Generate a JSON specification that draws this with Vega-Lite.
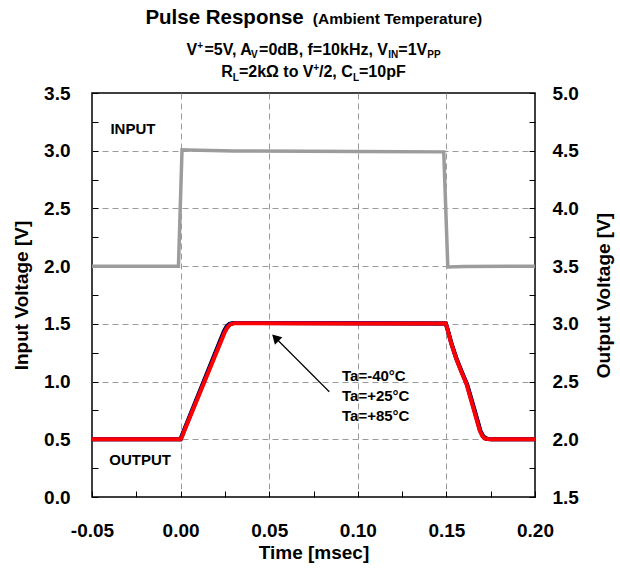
{
  "$schema": "https://vega.github.io/schema/vega-lite/v6.json",
  "width": 443,
  "height": 404,
  "autosize": {"type": "none"},
  "padding": {"left": 92, "top": 93, "right": 85, "bottom": 78},
  "background": "white",
  "config": {
    "font": "Liberation Sans",
    "view": {"stroke": "#000000", "strokeWidth": 1.5},
    "axis": {
      "labelFont": "Liberation Sans", "labelFontSize": 19, "labelFontWeight": "bold", "labelColor": "#000000",
      "titleFont": "Liberation Sans", "titleFontSize": 19, "titleFontWeight": "bold", "titleColor": "#000000",
      "tickColor": "#000000", "tickSize": -6, "tickWidth": 1, "domain": false,
      "labelFlush": false, "labelOverlap": false,
      "gridColor": "#9a9a9a", "gridDash": [6, 4], "gridWidth": 1
    },
    "text": {"font": "Liberation Sans", "fontWeight": "bold", "color": "#000000"}
  },
  "datasets": {
    "input": [
      {"t": -0.05, "v": 2.0}, {"t": -0.0012, "v": 2.0}, {"t": 0.0008, "v": 3.008}, {"t": 0.004, "v": 3.006},
      {"t": 0.03, "v": 2.998}, {"t": 0.1, "v": 2.993}, {"t": 0.1485, "v": 2.99}, {"t": 0.1508, "v": 1.993},
      {"t": 0.16, "v": 1.996}, {"t": 0.2, "v": 2.0}
    ],
    "output": [
      {"ta": "-40", "t": -0.05, "v": 2.0}, {"ta": "-40", "t": 0.0, "v": 2.0}, {"ta": "-40", "t": 0.0006, "v": 2.03},
      {"ta": "-40", "t": 0.0245, "v": 2.94}, {"ta": "-40", "t": 0.026, "v": 2.98}, {"ta": "-40", "t": 0.0275, "v": 3.0},
      {"ta": "-40", "t": 0.03, "v": 3.008}, {"ta": "-40", "t": 0.1, "v": 3.005}, {"ta": "-40", "t": 0.1497, "v": 3.003},
      {"ta": "-40", "t": 0.1507, "v": 2.95}, {"ta": "-40", "t": 0.153, "v": 2.825}, {"ta": "-40", "t": 0.1558, "v": 2.695},
      {"ta": "-40", "t": 0.1588, "v": 2.58}, {"ta": "-40", "t": 0.1618, "v": 2.47}, {"ta": "-40", "t": 0.1656, "v": 2.27},
      {"ta": "-40", "t": 0.1693, "v": 2.07}, {"ta": "-40", "t": 0.1709, "v": 2.025}, {"ta": "-40", "t": 0.1727, "v": 2.005},
      {"ta": "-40", "t": 0.176, "v": 2.0}, {"ta": "-40", "t": 0.2, "v": 2.0},
      {"ta": "+25", "t": -0.05, "v": 2.0}, {"ta": "+25", "t": 0.0, "v": 2.0}, {"ta": "+25", "t": 0.0007, "v": 2.025},
      {"ta": "+25", "t": 0.0248, "v": 2.935}, {"ta": "+25", "t": 0.0263, "v": 2.975}, {"ta": "+25", "t": 0.0278, "v": 2.998},
      {"ta": "+25", "t": 0.0302, "v": 3.007}, {"ta": "+25", "t": 0.1, "v": 3.005}, {"ta": "+25", "t": 0.1496, "v": 3.003},
      {"ta": "+25", "t": 0.1506, "v": 2.955}, {"ta": "+25", "t": 0.1528, "v": 2.828}, {"ta": "+25", "t": 0.1556, "v": 2.698},
      {"ta": "+25", "t": 0.1586, "v": 2.582}, {"ta": "+25", "t": 0.1615, "v": 2.478}, {"ta": "+25", "t": 0.1653, "v": 2.275},
      {"ta": "+25", "t": 0.169, "v": 2.075}, {"ta": "+25", "t": 0.1705, "v": 2.028}, {"ta": "+25", "t": 0.1721, "v": 2.006},
      {"ta": "+25", "t": 0.175, "v": 2.0}, {"ta": "+25", "t": 0.2, "v": 2.0},
      {"ta": "+85", "t": -0.05, "v": 2.0}, {"ta": "+85", "t": 0.0, "v": 2.0}, {"ta": "+85", "t": 0.0008, "v": 2.02},
      {"ta": "+85", "t": 0.002, "v": 2.07}, {"ta": "+85", "t": 0.025, "v": 2.93}, {"ta": "+85", "t": 0.0265, "v": 2.97},
      {"ta": "+85", "t": 0.028, "v": 2.995}, {"ta": "+85", "t": 0.0305, "v": 3.006}, {"ta": "+85", "t": 0.1, "v": 3.004},
      {"ta": "+85", "t": 0.1495, "v": 3.003}, {"ta": "+85", "t": 0.1505, "v": 2.96}, {"ta": "+85", "t": 0.1527, "v": 2.83},
      {"ta": "+85", "t": 0.1555, "v": 2.70}, {"ta": "+85", "t": 0.1584, "v": 2.585}, {"ta": "+85", "t": 0.1612, "v": 2.485},
      {"ta": "+85", "t": 0.165, "v": 2.28}, {"ta": "+85", "t": 0.1687, "v": 2.08}, {"ta": "+85", "t": 0.1702, "v": 2.03},
      {"ta": "+85", "t": 0.1716, "v": 2.008}, {"ta": "+85", "t": 0.174, "v": 2.0}, {"ta": "+85", "t": 0.2, "v": 2.0}
    ],
    "titleMain": [
      {"s": "V", "t": 0.00328, "v": 3.829},
      {"s": "=5V, A", "t": 0.0135, "v": 3.829},
      {"s": "=0dB, f=10kHz, V", "t": 0.04429, "v": 3.829},
      {"s": "=1V", "t": 0.12285, "v": 3.829},
      {"s": "R", "t": 0.02291, "v": 3.636},
      {"s": "=2kΩ to V", "t": 0.0329, "v": 3.636},
      {"s": "/2, C", "t": 0.07811, "v": 3.636},
      {"s": "=10pF", "t": 0.10068, "v": 3.636}
    ],
    "titleSmall": [
      {"s": "+", "t": 0.00933, "v": 3.881},
      {"s": "V", "t": 0.0397, "v": 3.799},
      {"s": "IN", "t": 0.11719, "v": 3.799},
      {"s": "PP", "t": 0.1392, "v": 3.799},
      {"s": "L", "t": 0.02944, "v": 3.608},
      {"s": "+", "t": 0.07481, "v": 3.691},
      {"s": "L", "t": 0.09723, "v": 3.608}
    ],
    "labels": [
      {"s": "INPUT", "t": -0.0396, "v": 3.145},
      {"s": "OUTPUT", "t": -0.0402, "v": 0.277}
    ],
    "temps": [
      {"s": "Ta=-40°C", "t": 0.0911, "v": 1.005},
      {"s": "Ta=+25°C", "t": 0.0911, "v": 0.832},
      {"s": "Ta=+85°C", "t": 0.0911, "v": 0.658}
    ]
  },
  "layer": [
    {
      "data": {"name": "input"},
      "mark": {"type": "line", "color": "#9c9c9c", "strokeWidth": 3.5},
      "encoding": {
        "x": {
          "field": "t", "type": "quantitative", "title": "Time [msec]",
          "scale": {"domain": [-0.05, 0.2], "nice": false, "zero": false},
          "axis": {
            "title": "Time [msec]",
            "values": [-0.05, -0.025, 0, 0.025, 0.05, 0.075, 0.1, 0.125, 0.15, 0.175, 0.2],
            "labelExpr": "abs(round(datum.value*1000)) % 50 == 0 ? replace(format(datum.value, '.2f'), '−', '-') : ''",
            "labelPadding": 30,
            "titlePadding": 3,
            "labelOverlap": false,
            "labelFlush": false,
            "gridOpacity": {"condition": {"test": "abs(round(datum.value*1000)) % 50 != 0 || abs(datum.value + 0.05) < 0.001 || abs(datum.value - 0.2) < 0.001", "value": 0}, "value": 1}
          }
        },
        "y": {
          "field": "v", "type": "quantitative",
          "scale": {"domain": [0, 3.5], "nice": false, "zero": false},
          "axis": {
            "title": "Input Voltage [V]",
            "values": [0, 0.25, 0.5, 0.75, 1, 1.25, 1.5, 1.75, 2, 2.25, 2.5, 2.75, 3, 3.25, 3.5],
            "labelExpr": "round(datum.value*100) % 50 == 0 ? format(datum.value, '.1f') : ''",
            "labelPadding": 28,
            "titlePadding": 12,
            "gridOpacity": {"condition": {"test": "round(datum.value*100) % 50 != 0 || datum.value < 0.01 || datum.value > 3.49", "value": 0}, "value": 1}
          }
        }
      }
    },
    {
      "data": {"name": "output"},
      "mark": {"type": "line", "strokeWidth": 4},
      "encoding": {
        "x": {"field": "t", "type": "quantitative", "title": "Time [msec]", "scale": {"domain": [-0.05, 0.2], "nice": false, "zero": false}},
        "y": {
          "field": "v", "type": "quantitative",
          "scale": {"domain": [1.5, 5.0], "nice": false, "zero": false},
          "axis": {
            "orient": "right",
            "title": "Output Voltage [V]",
            "titleAngle": 270,
            "titleBaseline": "top",
            "values": [1.5, 1.75, 2, 2.25, 2.5, 2.75, 3, 3.25, 3.5, 3.75, 4, 4.25, 4.5, 4.75, 5],
            "labelExpr": "round(datum.value*100) % 50 == 0 ? format(datum.value, '.1f') : ''",
            "labelPadding": 23,
            "titlePadding": 16,
            "grid": false
          }
        },
        "color": {
          "field": "ta", "type": "nominal",
          "scale": {"domain": ["-40", "+25", "+85"], "range": ["#000000", "#0000b0", "#ff0000"]},
          "legend": null
        }
      }
    },
    {
      "data": {"name": "titleMain"},
      "mark": {"type": "text", "align": "left", "baseline": "alphabetic", "fontSize": 16},
      "encoding": {
        "x": {"field": "t", "type": "quantitative", "title": "Time [msec]", "scale": {"domain": [-0.05, 0.2], "nice": false, "zero": false}},
        "y": {"field": "v", "type": "quantitative", "scale": {"domain": [0, 3.5], "nice": false, "zero": false}, "axis": null},
        "text": {"field": "s"}
      }
    },
    {
      "data": {"name": "titleSmall"},
      "mark": {"type": "text", "align": "left", "baseline": "alphabetic", "fontSize": 10},
      "encoding": {
        "x": {"field": "t", "type": "quantitative", "title": "Time [msec]", "scale": {"domain": [-0.05, 0.2], "nice": false, "zero": false}},
        "y": {"field": "v", "type": "quantitative", "scale": {"domain": [0, 3.5], "nice": false, "zero": false}, "axis": null},
        "text": {"field": "s"}
      }
    },
    {
      "data": {"values": [{}]},
      "mark": {"type": "text", "align": "right", "baseline": "alphabetic", "fontSize": 20.5},
      "encoding": {
        "x": {"datum": 0.0695, "type": "quantitative", "title": "Time [msec]", "scale": {"domain": [-0.05, 0.2], "nice": false, "zero": false}},
        "y": {"datum": 4.098, "type": "quantitative", "scale": {"domain": [0, 3.5], "nice": false, "zero": false}, "axis": null},
        "text": {"value": "Pulse Response"}
      }
    },
    {
      "data": {"values": [{}]},
      "mark": {"type": "text", "align": "left", "baseline": "alphabetic", "fontSize": 15.5},
      "encoding": {
        "x": {"datum": 0.0746, "type": "quantitative", "title": "Time [msec]", "scale": {"domain": [-0.05, 0.2], "nice": false, "zero": false}},
        "y": {"datum": 4.098, "type": "quantitative", "scale": {"domain": [0, 3.5], "nice": false, "zero": false}, "axis": null},
        "text": {"value": "(Ambient Temperature)"}
      }
    },
    {
      "data": {"name": "labels"},
      "mark": {"type": "text", "align": "left", "baseline": "alphabetic", "fontSize": 15},
      "encoding": {
        "x": {"field": "t", "type": "quantitative", "title": "Time [msec]", "scale": {"domain": [-0.05, 0.2], "nice": false, "zero": false}},
        "y": {"field": "v", "type": "quantitative", "scale": {"domain": [0, 3.5], "nice": false, "zero": false}, "axis": null},
        "text": {"field": "s"}
      }
    },
    {
      "data": {"name": "temps"},
      "mark": {"type": "text", "align": "left", "baseline": "alphabetic", "fontSize": 15},
      "encoding": {
        "x": {"field": "t", "type": "quantitative", "title": "Time [msec]", "scale": {"domain": [-0.05, 0.2], "nice": false, "zero": false}},
        "y": {"field": "v", "type": "quantitative", "scale": {"domain": [0, 3.5], "nice": false, "zero": false}, "axis": null},
        "text": {"field": "s"}
      }
    },
    {
      "data": {"values": [{}]},
      "mark": {"type": "rule", "color": "#000000", "strokeWidth": 1.2},
      "encoding": {
        "x": {"datum": 0.0839, "type": "quantitative", "title": "Time [msec]", "scale": {"domain": [-0.05, 0.2], "nice": false, "zero": false}},
        "y": {"datum": 0.912, "type": "quantitative", "scale": {"domain": [0, 3.5], "nice": false, "zero": false}, "axis": null},
        "x2": {"datum": 0.0535},
        "y2": {"datum": 1.38}
      }
    },
    {
      "data": {"values": [{}]},
      "mark": {"type": "point", "shape": "triangle-up", "filled": true, "color": "#000000", "opacity": 1, "size": 110, "angle": 315},
      "encoding": {
        "x": {"datum": 0.0535, "type": "quantitative", "title": "Time [msec]", "scale": {"domain": [-0.05, 0.2], "nice": false, "zero": false}},
        "y": {"datum": 1.38, "type": "quantitative", "scale": {"domain": [0, 3.5], "nice": false, "zero": false}, "axis": null}
      }
    }
  ],
  "resolve": {"scale": {"y": "independent"}}
}
